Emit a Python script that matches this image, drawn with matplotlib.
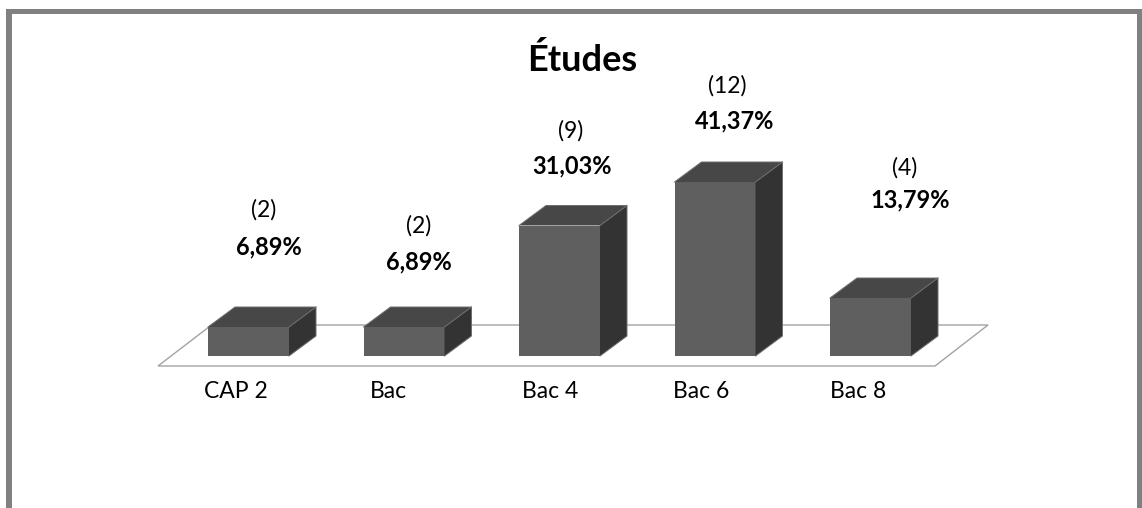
import matplotlib
matplotlib.use("Agg")
import matplotlib.pyplot as plt
from matplotlib.patches import Polygon, Rectangle

# data
categories = ["CAP 2", "Bac", "Bac 4", "Bac 6", "Bac 8"]
counts = [2, 2, 9, 12, 4]
percents = ["6,89%", "6,89%", "31,03%", "41,37%", "13,79%"]
title = "Études"

plt.rcParams["font.family"] = ["Lato", "DejaVu Sans"]

W, H = 1142, 508
DPI = 100
fig = plt.figure(figsize=(W / DPI, H / DPI), dpi=DPI, facecolor="white")
ax = fig.add_axes([0, 0, 1, 1])

# scale: 155.5 px per category, 14.5 px per count, baseline at y=356 px
px_x = 155.5
px_y = 14.5
x0_px = 248.5
y0_px = 356
ax.set_xlim(-x0_px / px_x, (W - x0_px) / px_x)
ax.set_ylim(-(H - y0_px) / px_y, y0_px / px_y)
ax.axis("off")

# 3D look
bar_w = 81 / px_x
dx = 27 / px_x
dy = 20 / px_y
front_c = "#5f5f5f"
top_c = "#474747"
side_c = "#333333"
edge_c = "#6e6e6e"

# floor
floor = Polygon(
    [
        (-90.5 / px_x, -10 / px_y),
        (686.5 / px_x, -10 / px_y),
        (739.5 / px_x, 31 / px_y),
        (-37 / px_x, 31 / px_y),
    ],
    closed=True,
    facecolor="white",
    edgecolor="#a3a3a3",
    linewidth=1.0,
    zorder=1,
)
ax.add_patch(floor)

for i, c in enumerate(counts):
    left = i - bar_w / 2
    right = i + bar_w / 2
    ax.add_patch(Rectangle((left, 0), bar_w, c, facecolor=front_c, edgecolor="none", zorder=3))
    ax.add_patch(
        Polygon(
            [(left, c), (right, c), (right + dx, c + dy), (left + dx, c + dy)],
            closed=True, facecolor=top_c, edgecolor="none", zorder=3,
        )
    )
    ax.add_patch(
        Polygon(
            [(right, 0), (right + dx, dy), (right + dx, c + dy), (right, c)],
            closed=True, facecolor=side_c, edgecolor="none", zorder=3,
        )
    )
    ax.plot(
        [left, left + dx, right + dx, right + dx, right],
        [c, c + dy, c + dy, dy, 0],
        color=edge_c, linewidth=0.7, zorder=4,
    )
    ax.plot([right, right + dx], [c, c + dy], color=edge_c, linewidth=0.7, zorder=4)

# label offsets from the bar top, in pixels
count_off = [(15.5, 117), (14.5, 101), (11.5, 95), (12, 96), (34.5, 130)]
pct_off = [(20.5, 80), (14.5, 65), (12.5, 60), (20, 61), (40, 98)]
cat_off = [-12.5, -16, -9.5, -13.5, -12.5]
to_pt = 72 / DPI

for i, c in enumerate(counts):
    ax.annotate(
        "(%d)" % c, (i, c), xytext=(count_off[i][0] * to_pt, count_off[i][1] * to_pt),
        textcoords="offset points", ha="center", va="center", fontsize=16.5, color="black",
    )
    ax.annotate(
        percents[i], (i, c), xytext=(pct_off[i][0] * to_pt, pct_off[i][1] * to_pt),
        textcoords="offset points", ha="center", va="center", fontsize=17,
        fontweight="bold", color="black",
    )
    ax.annotate(
        categories[i], (i, 0), xytext=(cat_off[i] * to_pt, -35 * to_pt),
        textcoords="offset points", ha="center", va="center", fontsize=16.5, color="black",
    )

fig.text(582 / W, 1 - 60 / H, title, ha="center", va="center", fontsize=26, fontweight="bold", color="black")

# grey frame around the chart, open at the bottom
frame_c = "#808080"
for (x, y, w, h) in [(6, 9, 1136, 5), (6, 9, 6, 499), (1137, 9, 5, 499)]:
    fig.add_artist(
        Rectangle(
            (x / W, 1 - (y + h) / H), w / W, h / H,
            transform=fig.transFigure, facecolor=frame_c, edgecolor="none",
        )
    )

fig.savefig("out.png", dpi=DPI)
